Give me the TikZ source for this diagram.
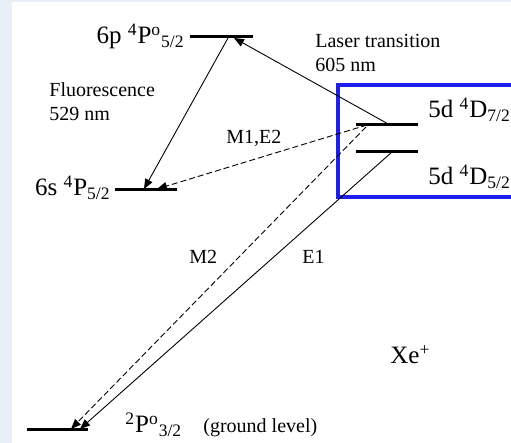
\documentclass[tikz,border=0pt]{standalone}
\usepackage{fontspec}
\setmainfont{Liberation Serif}
\usetikzlibrary{arrows.meta}
\definecolor{bgpane}{HTML}{E8EFF9}
\definecolor{boxblue}{HTML}{1E1EF0}
\newcommand{\trm}[3]{\textsuperscript{#1}#2\textsubscript{#3}}
\tikzset{
  lvl/.style={line width=1.5pt},
  ar/.style={-{Triangle[length=5pt,width=4pt]},line width=0.45pt},
  dar/.style={ar,dashed,dash pattern=on 3pt off 1.5pt},
  lab/.style={inner sep=0pt,font=\fontsize{10}{12}\selectfont},
  biglab/.style={inner sep=0pt,font=\fontsize{12.5}{14}\selectfont},
}

\begin{document}
\begin{tikzpicture}[x=0.5pt,y=-0.5pt]
\useasboundingbox (0,0) rectangle (511,443);
\clip (0,0) rectangle (511,443);
\fill[bgpane] (0,0) rectangle (511,443);
\fill[white] (12,2) rectangle (511,443);

% levels
\draw[lvl] (190,37) coordinate (p6w) -- (253,37) coordinate (p6e);
\draw[lvl] (115,190) coordinate (s6w) -- (177,190) coordinate (s6e);
\draw[lvl] (356,125) coordinate (d7w) -- (418,125) coordinate (d7e);
\draw[lvl] (356,152) coordinate (d5w) -- (418,152) coordinate (d5e);
\draw[lvl] (27,430) coordinate (gw) -- (88,430) coordinate (ge);

% box round the 5d pair
\draw[boxblue,line width=1.8pt] (520,85) -- (338,85) -- (338,197) -- (520,197);

% end points on the levels
\coordinate (laserA) at (390,125);
\coordinate (laserB) at (234,38);
\coordinate (fluoA) at (228,38);
\coordinate (fluoB) at (144,189);
\coordinate (meA) at (367,125);
\coordinate (meB) at (157,189);
\coordinate (mtA) at (366,127);
\coordinate (mtB) at (71,429);
\coordinate (eoA) at (392,152);
\coordinate (eoB) at (80,429);

\draw[ar] (laserA) -- (laserB);
\draw[ar] (fluoA) -- (fluoB);
\draw[dar] (meA) -- (meB);
\draw[dar] (mtA) -- (mtB);
\draw[ar] (eoA) -- (eoB);

% level names
\node[biglab,anchor=base east] (p6lab) at (185,44) {6p \trm{4}{P\textsuperscript{o}}{5/2}};
\node[biglab,anchor=base east] (s6lab) at (111,196) {6s \trm{4}{P}{5/2}};
\node[biglab,anchor=base west] (d7lab) at (428,118) {5d \trm{4}{D}{7/2}};
\node[biglab,anchor=base west] (d5lab) at (428,185) {5d \trm{4}{D}{5/2}};
\node[biglab,anchor=base west] (glab) at (125,433) {\trm{2}{P\textsuperscript{o}}{3/2}};
\node[lab,anchor=base west] (gnote) at (203,433) {(ground level)};
\node[biglab,anchor=base west] (ion) at (390,364) {Xe\textsuperscript{+}};

% transition labels
\node[lab,anchor=base west] (laserlab) at (315,48) {Laser transition};
\node[lab,anchor=base west] (laserwl) at (315,72) {605 nm};
\node[lab,anchor=base west] (fluolab) at (49,97) {Fluorescence};
\node[lab,anchor=base west] (fluowl) at (49,121) {529 nm};
\node[lab,anchor=base west] (melab) at (226,144) {M1,E2};
\node[lab,anchor=base west] (mtlab) at (189,264) {M2};
\node[lab,anchor=base west] (eolab) at (302,264) {E1};
\end{tikzpicture}
\end{document}
